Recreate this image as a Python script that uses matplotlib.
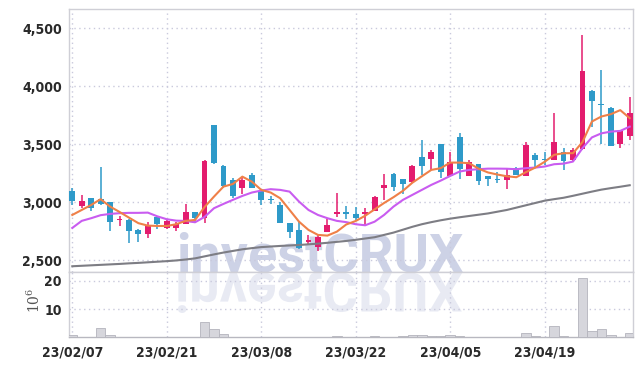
import matplotlib.pyplot as plt
from matplotlib.textpath import TextPath
from matplotlib.patches import PathPatch
from matplotlib.font_manager import FontProperties
import matplotlib.transforms as mtransforms
from matplotlib.ticker import FuncFormatter

# daily candles, index based (trading days)
tick_pos = [0, 10, 20, 30, 40, 50]
tick_labels = ['23/02/07', '23/02/21', '23/03/08', '23/03/22', '23/04/05', '23/04/19']

opens = [3100, 2965, 3035, 3030, 3002, 2852, 2850, 2765, 2732, 2878,
         2783, 2783, 2818, 2918, 2870, 3668, 3315, 3194, 3120, 3237,
         3099, 3024, 2978, 2823, 2763, 2655, 2619, 2748, 2897, 2918,
         2900, 2898, 2929, 3120, 3246, 3203, 3174, 3392, 3372, 3502,
         3231, 3565, 3231, 3332, 3228, 3205, 3194, 3300, 3231, 3410,
         3376, 3369, 3433, 3369, 3461, 3964, 3852, 3817, 3502, 3576]
highs = [3120, 3060, 3040, 3305, 3005, 2885, 2855, 2770, 2835, 2880,
         2855, 2835, 2985, 2920, 3362, 3670, 3318, 3210, 3222, 3257,
         3112, 3058, 3007, 2825, 2841, 2717, 2718, 2858, 3079, 2970,
         2964, 2950, 3055, 3243, 3250, 3205, 3318, 3539, 3452, 3505,
         3430, 3596, 3365, 3335, 3230, 3266, 3295, 3302, 3524, 3425,
         3430, 3769, 3472, 3472, 4438, 3970, 4142, 3822, 3620, 3912]
lows = [2975, 2955, 2925, 2975, 2755, 2795, 2648, 2662, 2690, 2770,
        2772, 2757, 2815, 2834, 2826, 3328, 3122, 3036, 3073, 3125,
        2978, 2987, 2824, 2691, 2600, 2634, 2582, 2745, 2878, 2855,
        2850, 2800, 2925, 3022, 3102, 3070, 3170, 3237, 3280, 3208,
        3228, 3200, 3225, 3148, 3140, 3170, 3114, 3235, 3228, 3309,
        3322, 3365, 3280, 3352, 3455, 3653, 3502, 3488, 3472, 3539]
closes = [3010, 3012, 2955, 2982, 2835, 2860, 2757, 2732, 2797, 2818,
          2840, 2818, 2918, 2866, 3360, 3343, 3142, 3059, 3194, 3128,
          3019, 3020, 2826, 2748, 2605, 2677, 2705, 2806, 2918, 2898,
          2862, 2918, 3047, 3150, 3134, 3162, 3315, 3315, 3435, 3263,
          3349, 3291, 3349, 3188, 3200, 3195, 3240, 3237, 3496, 3369,
          3362, 3519, 3360, 3450, 4134, 3875, 3842, 3490, 3616, 3769]

ma_short = [2892, 2935, 2978, 3028, 2964, 2918, 2869, 2821, 2800, 2797,
            2797, 2812, 2841, 2849, 2960, 3050, 3136, 3159, 3222, 3179,
            3108, 3085, 3036, 2935, 2834, 2763, 2720, 2714, 2748, 2810,
            2840, 2885, 2940, 2995, 3045, 3100, 3170, 3225, 3280, 3295,
            3343, 3343, 3338, 3291, 3258, 3240, 3225, 3217, 3260, 3300,
            3350, 3410, 3424, 3424, 3520, 3697, 3740, 3760, 3795, 3726]
ma_mid = [2780, 2841, 2864, 2890, 2901, 2907, 2910, 2910, 2912, 2880,
          2855, 2843, 2840, 2829, 2875, 2950, 2987, 3022, 3056, 3085,
          3102, 3114, 3108, 3093, 3007, 2935, 2892, 2864, 2841, 2830,
          2812, 2803, 2834, 2892, 2964, 3022, 3065, 3108, 3151, 3188,
          3228, 3266, 3280, 3286, 3291, 3291, 3290, 3286, 3295, 3300,
          3309, 3329, 3334, 3352, 3467, 3560, 3595, 3610, 3616, 3653]
ma_long = [2450, 2454, 2458, 2462, 2466, 2470, 2475, 2479, 2484, 2489,
           2494, 2500, 2508, 2518, 2535, 2552, 2568, 2582, 2596, 2606,
           2615, 2620, 2625, 2629, 2633, 2639, 2645, 2652, 2660, 2668,
           2678, 2689, 2700, 2720, 2740, 2765, 2790, 2812, 2830, 2846,
           2860, 2872, 2883, 2894, 2905, 2920, 2935, 2955, 2975, 2995,
           3015, 3028, 3040, 3057, 3075, 3093, 3110, 3123, 3135, 3148]

# volume in millions
volume = [0.7, 0.3, 0.2, 3.2, 0.7, 0.3, 0.3, 0.1, 0.1, 0.1,
          0.1, 0.1, 0.3, 0.1, 5.4, 2.9, 1.1, 0.3, 0.3, 0.3,
          0.3, 0.2, 0.3, 0.3, 0.2, 0.1, 0.1, 0.1, 0.6, 0.1,
          0.1, 0.1, 0.5, 0.2, 0.2, 0.5, 1.0, 0.7, 0.6, 0.6,
          1.0, 0.4, 0.2, 0.1, 0.1, 0.1, 0.1, 0.1, 1.4, 0.6,
          0.2, 4.0, 0.6, 0.2, 21.0, 2.4, 3.1, 1.0, 0.2, 1.4]

UP = '#e31c6e'
DOWN = '#2e9ac9'
GRID = '#c9c9dc'
SPINE = '#cfcfd6'
WM_COLOR = '#cdd2e6'
label_fp = FontProperties(family='DejaVu Sans', stretch='condensed', weight='bold', size=10)

fig = plt.figure(figsize=(6.42, 3.66), dpi=100)
ax1 = fig.add_axes([0.107, 0.257, 0.879, 0.718])
ax2 = fig.add_axes([0.107, 0.078, 0.879, 0.179], sharex=ax1)

n = len(closes)
xs = list(range(n))
colors = [UP if c >= o else DOWN for o, c in zip(opens, closes)]
bottoms = [min(o, c) for o, c in zip(opens, closes)]
heights = [max(abs(c - o), 9) for o, c in zip(opens, closes)]

ax1.vlines(xs, lows, highs, colors=colors, lw=1.1, zorder=3)
ax1.bar(xs, heights, bottom=bottoms, width=0.62, color=colors, zorder=4)

ax1.plot(xs, ma_long, color='#7d7d84', lw=1.5, zorder=5)
ax1.plot(xs, ma_mid, color='#c95cf0', lw=1.5, zorder=5)
ax1.plot(xs, ma_short, color='#ef8048', lw=1.5, zorder=5)

ax2.bar(xs, volume, width=1.0, color='#d6d6dc', edgecolor='#b4b4bc', lw=0.6, zorder=3)

ax1.set_xlim(-0.38, 59.35)
ax1.set_ylim(2401, 4665)
ax2.set_ylim(0, 23.2)

ax1.set_yticks([2500, 3000, 3500, 4000, 4500])
ax1.yaxis.set_major_formatter(FuncFormatter(lambda v, p: f'{int(v):,}'))
ax2.set_yticks([10, 20])
ax2.set_xticks(tick_pos)
ax2.set_xticklabels(tick_labels)
plt.setp(ax1.get_xticklabels(), visible=False)

for ax in (ax1, ax2):
    ax.grid(True, color=GRID, linestyle=(0, (1, 2.5)), lw=1.0)
    ax.set_axisbelow(True)
    ax.tick_params(length=0, pad=5, labelcolor='#2a2a2a')
    for lab in ax.get_xticklabels() + ax.get_yticklabels():
        lab.set_fontproperties(label_fp)
    for s in ax.spines.values():
        s.set_color(SPINE)
        s.set_linewidth(1.0)
ax2.spines['bottom'].set_color('#b8b8c0')
ax2.tick_params(axis='x', pad=6)

fig.text(0.053, 0.18, r'$10^6$', rotation=90, ha='center', va='center',
         fontsize=10, color='#555555', math_fontfamily='dejavuserif')

# watermark and its mirror image below the divider
ax1.text(320 / 642, (366 - 271) / 366, 'investCRUX', fontsize=39, fontweight='bold',
         family=['Roboto', 'DejaVu Sans'], color=WM_COLOR, ha='center', va='baseline',
         zorder=0.3, transform=fig.transFigure)

wm_fp = FontProperties(family='Roboto', weight='bold')
tp = TextPath((0, 0), 'investCRUX', size=39 * 100 / 72, prop=wm_fp)
ext = tp.get_extents()
mirror = (mtransforms.Affine2D().translate(-(ext.x0 + ext.width / 2), 0)
          .scale(1, -1).translate(320, 366 - 273))
ax2.add_patch(PathPatch(tp, transform=mirror, facecolor=WM_COLOR, edgecolor='none',
                        alpha=0.45, zorder=0.3))

fig.savefig('out.png', dpi=100)
